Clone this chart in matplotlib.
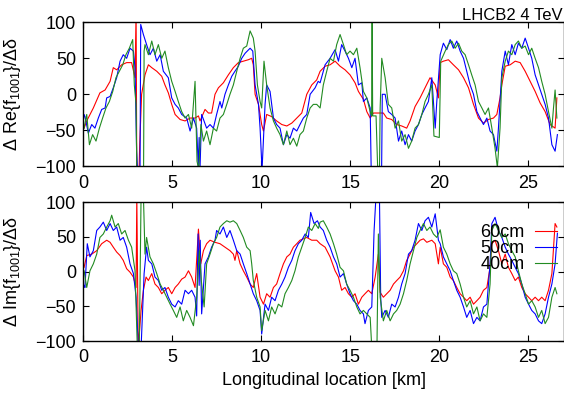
import matplotlib
matplotlib.use("Agg")
import matplotlib.pyplot as plt

plt.rcParams['font.family'] = ['Liberation Sans', 'DejaVu Sans']
plt.rcParams['mathtext.fontset'] = 'custom'
plt.rcParams['mathtext.rm'] = 'Liberation Sans'
plt.rcParams['mathtext.it'] = 'Liberation Sans:italic'
plt.rcParams['mathtext.default'] = 'regular'

## Re{f1001}, 60cm / 50cm / 40cm
re_x_60 = [0.06, 0.21, 0.58, 0.95, 1.24, 1.52, 1.70, 1.89, 2.17, 2.45, 2.73, 2.92, 2.98, 3.02, 3.14, 3.18,
           3.29, 3.48, 3.67, 3.86, 4.14, 4.42, 4.60, 4.79, 4.98, 5.17, 5.45, 5.73, 6.01, 6.29, 6.48,
           6.57, 6.85, 7.04, 7.22, 7.41, 7.60, 7.88, 8.16, 8.44, 8.72, 9.00, 9.28, 9.47, 9.56, 9.66,
           9.85, 10.03, 10.13, 10.31, 10.59, 10.87, 11.16, 11.44, 11.72, 12.00, 12.28, 12.56, 12.84, 13.12,
           13.31, 13.59, 13.87, 14.15, 14.43, 14.71, 14.99, 15.27, 15.46, 15.74, 15.93, 16.12, 16.30, 16.58,
           16.86, 17.05, 17.33, 17.61, 17.89, 18.17, 18.36, 18.64, 18.92, 19.20, 19.48, 19.77, 19.95,
           20.05, 20.23, 20.51, 20.79, 21.08, 21.36, 21.64, 21.92, 22.20, 22.48, 22.76, 23.04, 23.23,
           23.41, 23.51, 23.70, 23.98, 24.26, 24.54, 24.82, 25.10, 25.38, 25.66, 25.94, 26.22, 26.50, 26.60]
re_y_60 = [-47, -37, -19, 2, 6, 18, 37, 34, 41, 44, 44, 23, 115, -115, -115, -72,
           0, 27, 41, 37, 32, 25, 13, 2, -14, -28, -35, -37, -33, -33, -30,
           -37, -21, -26, -26, 0, 9, 16, 27, 37, 44, 46, 48, 50, 41, 0,
           -14, -42, -51, -28, -31, -37, -42, -44, -40, -33, -26, 0, 13, 20,
           32, 39, 41, 46, 39, 34, 27, 16, 4, -7, -24, -33, -26, -26,
           -26, -33, -35, -42, -44, -47, -37, -17, -5, 9, 23, 13, -5,
           44, 46, 48, 41, 34, 23, 9, -14, -33, -40, -35, -33, -28,
           -5, 13, 39, 41, 46, 44, 32, 18, 4, -12, -24, -42, -47, -5]

re_x_50 = [0.00, 0.06, 0.11, 0.30, 0.49, 0.67, 0.86, 1.05, 1.24, 1.33, 1.52, 1.70, 1.89, 2.08, 2.26, 2.45,
           2.64, 2.83, 2.92, 3.01, 3.08, 3.20, 3.24, 3.39, 3.57, 3.76, 3.95, 4.14, 4.33, 4.51, 4.79,
           4.98, 5.17, 5.35, 5.54, 5.82, 6.01, 6.20, 6.38, 6.47, 6.52, 6.57, 6.66, 6.94, 7.13, 7.32,
           7.50, 7.69, 7.79, 7.97, 8.16, 8.35, 8.53, 8.72, 8.91, 9.10, 9.38, 9.53, 9.66, 9.85, 9.94,
           10.05, 10.22, 10.31, 10.50, 10.69, 10.87, 11.06, 11.25, 11.44, 11.62, 11.81, 12.00, 12.18, 12.37,
           12.56, 12.75, 13.03, 13.20, 13.31, 13.59, 13.87, 14.15, 14.34, 14.52, 14.71, 14.90, 15.09, 15.27,
           15.46, 15.65, 15.74, 15.93, 16.12, 16.20, 16.75, 16.80, 16.96, 17.14, 17.33, 17.52, 17.71, 17.89,
           18.08, 18.27, 18.45, 18.64, 18.83, 19.02, 19.20, 19.39, 19.58, 19.77, 19.86,
           20.05, 20.23, 20.42, 20.61, 20.79, 20.98, 21.17, 21.36, 21.54, 21.73, 21.92, 22.11, 22.29, 22.48,
           22.67, 22.85, 23.04, 23.23, 23.32, 23.51, 23.70, 23.88, 24.07, 24.26, 24.44, 24.63, 24.82, 25.01,
           25.19, 25.38, 25.57, 25.75, 25.94, 26.13, 26.32, 26.50, 26.63]
re_y_50 = [-40, -28, -31, -54, -42, -47, -33, -21, -19, -5, -3, 9, 23, 46, 55, 50,
           64, 60, 37, -79, -115, -115, 97, 83, 69, 55, 64, 46, 55, 32, 23,
           -5, -14, -19, -28, -33, -51, -33, -47, -100, -60, -102, -28, -47, -42, -47,
           -28, -10, -19, 0, 13, 25, 32, 39, 50, 57, 64, 60, 13, -14, -47,
           -105, -14, 13, 4, -33, -42, -47, -70, -56, -61, -47, -51, -42, -33,
           -28, 0, 9, 18, 16, 41, 50, 62, 46, 69, 60, 50, 37, 50,
           13, 16, -10, -5, -19, -140, -140, 0, 0, -24, -28, -33, -65, -51,
           -70, -56, -65, -51, -42, -28, -19, -10, 23, -47, -10,
           55, 71, 62, 76, 64, 74, 60, 50, 32, 13, 0, -24, -33, -42,
           -33, -51, -56, -79, -47, 32, 60, 41, 69, 55, 71, 64, 78, 64,
           50, 27, 13, 0, -14, -33, -70, -79, -56]

re_x_40 = [0.06, 0.21, 0.36, 0.54, 0.73, 0.92, 1.10, 1.29, 1.48, 1.67, 1.85, 2.04, 2.23, 2.41, 2.60, 2.79,
           2.88, 2.98, 3.02, 3.40, 3.43, 3.48, 3.67, 3.86, 4.04, 4.23, 4.42, 4.60, 4.79, 4.98, 5.17,
           5.35, 5.54, 5.73, 5.92, 6.10, 6.29, 6.40, 6.50, 6.62, 6.76, 6.94, 7.13, 7.32, 7.50, 7.69,
           7.88, 8.07, 8.25, 8.44, 8.63, 8.82, 9.00, 9.19, 9.38, 9.56, 9.66, 9.79, 9.94, 10.03, 10.16,
           10.31, 10.50, 10.69, 10.87, 11.06, 11.25, 11.44, 11.62, 11.81, 12.00, 12.18, 12.37, 12.56, 12.75,
           12.93, 13.12, 13.31, 13.49, 13.68, 13.87, 14.06, 14.24, 14.43, 14.62, 14.80, 14.99, 15.18, 15.37,
           15.55, 15.74, 15.93, 16.12, 16.20, 16.23, 16.26, 16.45, 16.55, 16.64, 16.68, 16.77, 16.96, 17.14,
           17.33, 17.52, 17.71, 17.89, 18.08, 18.27, 18.45, 18.64, 18.83, 19.02, 19.20, 19.39, 19.58, 19.70,
           20.00, 20.08, 20.33, 20.51, 20.70, 20.89, 21.08, 21.26, 21.45, 21.64, 21.82, 22.01, 22.20, 22.39,
           22.57, 22.76, 22.95, 23.13, 23.26, 23.41, 23.51, 23.70, 23.88, 24.07, 24.26, 24.44, 24.63, 24.82,
           25.01, 25.19, 25.38, 25.57, 25.75, 25.94, 26.13, 26.32, 26.41, 26.50, 26.60]
re_y_40 = [-47, -28, -70, -56, -65, -47, -33, -19, -10, 4, 23, 32, 41, 55, 64, 76,
           13, -14, -110, -110, 60, 69, 55, 74, 55, 69, 50, 60, 37, 18, 4,
           -10, -24, -33, -28, -47, 18, -93, -105, -42, -65, -51, -70, -47, -51, -33,
           -28, -14, 0, 13, 32, 50, 64, 67, 88, 78, 60, 13, -10, -19, 46,
           13, -19, -37, -47, -56, -70, -51, -70, -61, -72, -56, -51, -33, -19,
           -14, -14, -19, 13, 32, 50, 46, 69, 83, 69, 55, 60, 55, 64,
           37, 4, -5, -24, -30, 105, -30, -30, -110, -110, -19, 50, 23, -14,
           -19, -47, -37, -65, -56, -75, -65, -47, -42, -28, -10, 0, 13, -58,
           -60, 46, 60, 69, 74, 64, 71, 60, 55, 41, 27, 13, -10, -19,
           -28, -19, -47, -75, -102, -47, 23, 46, 60, 55, 69, 74, 64, 67,
           55, 64, 50, 37, 18, 0, -24, -47, -19, 6, -33]

## Im{f1001}, 60cm / 50cm / 40cm
im_x_60 = [0.06, 0.21, 0.49, 0.77, 1.05, 1.33, 1.52, 1.70, 1.89, 2.08, 2.26, 2.45, 2.64, 2.83, 2.98, 3.02,
           3.10, 3.26, 3.39, 3.54, 3.67, 3.86, 4.04, 4.23, 4.42, 4.60, 4.79, 4.98, 5.17, 5.35, 5.54,
           5.73, 5.92, 6.10, 6.29, 6.48, 6.61, 6.76, 6.94, 7.13, 7.41, 7.69, 7.97, 8.25, 8.44, 8.53,
           8.63, 8.82, 9.00, 9.19, 9.38, 9.56, 9.75, 9.94, 10.13, 10.31, 10.50, 10.69, 10.87, 11.06,
           11.25, 11.44, 11.62, 11.81, 12.00, 12.18, 12.37, 12.56, 12.84, 13.12, 13.31, 13.59, 13.87, 14.15,
           14.34, 14.52, 14.71, 14.90, 15.09, 15.27, 15.46, 15.65, 15.83, 16.02, 16.21, 16.40, 16.58, 16.68,
           16.86, 17.05, 17.24, 17.43, 17.61, 17.80, 17.99, 18.17, 18.36, 18.55, 18.74, 18.92, 19.11, 19.30,
           19.58, 19.77, 19.95, 20.05, 20.23, 20.42, 20.61, 20.79, 20.98, 21.17, 21.36, 21.54, 21.73, 21.92,
           22.11, 22.29, 22.48, 22.67, 22.85, 22.95, 23.13, 23.32, 23.51, 23.70, 23.88, 24.07, 24.26, 24.44,
           24.63, 24.82, 25.01, 25.19, 25.38, 25.57, 25.75, 25.94, 26.13, 26.32, 26.50, 26.60]
im_y_60 = [6, 23, 25, 30, 40, 45, 42, 35, 28, 23, 16, 4, -1, -8, -23, 110,
           -110, -56, -27, -8, -13, -3, -18, -23, -32, -27, -23, -32, -23, -18, -11,
           -8, 1, -8, -23, 61, 11, 30, 40, 45, 42, 40, 35, 30, 25, 16,
           30, 11, 1, -8, -18, -23, -3, -37, -47, -32, -37, -23, -18, -3,
           11, 21, 25, 35, 40, 45, 47, 49, 45, 45, 40, 35, 21, 1,
           -8, -27, -23, -32, -37, -32, -47, -37, -32, -27, -32, -8, 25, -30,
           -37, -32, -27, -18, -13, -8, 1, 16, 25, 35, 40, 45, 47, 42,
           45, 40, 11, 35, 11, 6, -8, -13, -23, -32, -37, -42, -37, -47,
           -42, -37, -27, -23, 6, 40, 45, 30, 11, 25, 6, -3, -13, -8,
           -23, -32, -37, -42, -37, -42, -37, -42, -27, -3, 69, 64]

im_x_50 = [0.06, 0.11, 0.24, 0.39, 0.58, 0.77, 0.95, 1.14, 1.33, 1.52, 1.70, 1.89, 2.08, 2.26, 2.45, 2.64,
           2.83, 2.98, 3.11, 3.26, 3.43, 3.57, 3.67, 3.86, 4.04, 4.23, 4.42, 4.60, 4.79, 4.98, 5.17,
           5.35, 5.54, 5.73, 5.92, 6.10, 6.29, 6.38, 6.46, 6.52, 6.58, 6.66, 6.85, 7.04, 7.22, 7.41,
           7.50, 7.69, 7.88, 8.07, 8.25, 8.44, 8.63, 8.82, 9.00, 9.19, 9.38, 9.56, 9.75, 9.94, 10.03,
           10.22, 10.41, 10.59, 10.78, 10.97, 11.16, 11.34, 11.53, 11.72, 11.90, 12.09, 12.28, 12.47, 12.65,
           12.78, 12.97, 13.16, 13.31, 13.49, 13.68, 13.87, 14.06, 14.24, 14.43, 14.62, 14.80, 14.99, 15.18,
           15.37, 15.55, 15.74, 15.83, 16.02, 16.21, 16.34, 16.45, 16.64, 16.71, 16.77, 16.96, 17.14, 17.33,
           17.52, 17.71, 17.89, 18.08, 18.27, 18.45, 18.64, 18.83, 19.02, 19.20, 19.39, 19.58, 19.77, 19.95,
           20.05, 20.23, 20.42, 20.61, 20.79, 20.98, 21.17, 21.36, 21.54, 21.73, 21.92, 22.11, 22.29, 22.48,
           22.67, 22.85, 22.95, 23.13, 23.32, 23.51, 23.70, 23.88, 24.07, 24.26, 24.44, 24.63, 24.82, 25.01,
           25.19, 25.38, 25.57, 25.75, 25.94, 26.13, 26.32, 26.50, 26.63]
im_y_50 = [-20, -23, 40, 21, 30, 59, 64, 71, 59, 69, 59, 64, 45, 49, 35, 11,
           -3, -37, -110, -110, -3, 35, 16, 11, -8, -13, -27, -23, -37, -47, -51,
           -42, -47, -27, -32, -27, -37, -64, 54, -20, 45, -61, 11, 21, 35, 45,
           59, 54, 64, 49, 59, 45, 30, 25, 11, -3, -18, -32, -42, -56, -90,
           -47, -56, -37, -42, -27, -18, -8, 6, 16, 30, 40, 45, 54, 49,
           85, 69, 73, 64, 59, 45, 35, 21, 11, -8, -3, -18, -32, -42,
           -47, -56, -61, -75, -56, -51, 59, 110, 110, -37, -66, -56, -66, -47,
           -51, -37, -18, -3, 25, 30, 45, 69, 59, 73, 78, 64, 83, 45,
           40, 21, 11, 1, -13, -27, -37, -51, -66, -56, -75, -66, -71, -51,
           -47, 11, 69, 78, 59, 49, 35, 25, 16, 6, -3, -18, -37, -47,
           -56, -61, -71, -75, -61, -37, -18, 11, 55]

im_x_40 = [0.06, 0.21, 0.39, 0.58, 0.77, 0.95, 1.14, 1.33, 1.52, 1.61, 1.80, 1.98, 2.17, 2.36, 2.55, 2.73,
           2.92, 3.05, 3.16, 3.26, 3.39, 3.48, 3.57, 3.76, 3.95, 4.14, 4.33, 4.51, 4.70, 4.89, 5.07,
           5.26, 5.45, 5.63, 5.82, 6.01, 6.20, 6.38, 6.53, 6.64, 6.80, 6.94, 7.13, 7.32, 7.50, 7.69,
           7.88, 8.07, 8.25, 8.44, 8.63, 8.82, 9.00, 9.19, 9.38, 9.47, 9.56, 9.75, 9.94, 10.03, 10.22,
           10.41, 10.59, 10.78, 10.97, 11.16, 11.34, 11.53, 11.72, 11.90, 12.09, 12.28, 12.47, 12.65, 12.84,
           13.03, 13.21, 13.31, 13.49, 13.68, 13.87, 14.06, 14.24, 14.43, 14.62, 14.80, 14.99, 15.18, 15.37,
           15.55, 15.74, 15.93, 16.12, 16.21, 16.50, 16.58, 16.68, 16.86, 17.05, 17.24, 17.43, 17.61, 17.80,
           17.99, 18.17, 18.36, 18.55, 18.74, 18.92, 19.11, 19.30, 19.48, 19.67, 19.86,
           20.05, 20.23, 20.42, 20.61, 20.79, 20.98, 21.17, 21.36, 21.54, 21.73, 21.92, 22.11, 22.29, 22.48,
           22.67, 22.85, 22.95, 23.13, 23.32, 23.51, 23.70, 23.88, 24.07, 24.26, 24.44, 24.63, 24.82, 25.01,
           25.19, 25.38, 25.57, 25.75, 25.94, 26.13, 26.32, 26.50, 26.60]
im_y_40 = [1, -23, 1, 11, 25, 49, 54, 64, 73, 81, 64, 69, 54, 59, 45, 35,
           1, -110, -110, 110, 110, 25, 49, 21, 11, -3, -18, -27, -37, -47, -56,
           -66, -51, -71, -56, -66, -78, -37, 30, -13, -51, 11, 25, 40, 49, 64,
           69, 73, 71, 73, 69, 59, 49, 35, 30, 11, -13, -37, -51, -85, -56,
           -71, -51, -61, -47, -51, -32, -23, -13, 1, 21, 35, 49, 64, 59,
           69, 62, 71, 73, 64, 54, 40, 25, 6, 1, -18, -27, -37, -51,
           -61, -56, -61, -66, -110, -110, 54, -37, -71, -56, -71, -61, -56, -47,
           -32, -13, 11, 30, 49, 59, 69, 59, 64, 54, 49,
           60, 35, 25, 11, 1, -3, -18, -37, -51, -42, -61, -51, -71, -61,
           -66, -18, 59, 69, 59, 49, 54, 40, 30, 21, 1, -18, -32, -47,
           -42, -51, -66, -56, -75, -66, -37, -23, -32]

labels = ['60cm', '50cm', '40cm']
colors = ['#ff0000', '#0000ff', '#228b22']
xticks = [0, 5, 10, 15, 20, 25]
yticks = [-100, -50, 0, 50, 100]

fig = plt.figure(figsize=(5.64, 3.95), dpi=100)
ax1 = fig.add_axes([83/564, 1 - 166.3/395, 481/564, 144/395])
ax2 = fig.add_axes([83/564, 1 - 341/395, 481/564, 139/395])

ax1.plot(re_x_60, re_y_60, color=colors[0], lw=0.8)
ax1.plot(re_x_50, re_y_50, color=colors[1], lw=0.8)
ax1.plot(re_x_40, re_y_40, color=colors[2], lw=0.8)

ax2.plot(im_x_60, im_y_60, color=colors[0], lw=0.8, label=labels[0])
ax2.plot(im_x_50, im_y_50, color=colors[1], lw=0.8, label=labels[1])
ax2.plot(im_x_40, im_y_40, color=colors[2], lw=0.8, label=labels[2])

for ax in (ax1, ax2):
    ax.set_xlim(0, 27)
    ax.set_ylim(-100, 100)
    ax.set_xticks(xticks)
    ax.set_yticks(yticks)
    ax.tick_params(direction='in', top=True, right=True, length=4, width=0.8, labelsize=13)
    ax.tick_params(axis='x', pad=6)
    ax.tick_params(axis='y', pad=5)
    for s in ax.spines.values():
        s.set_linewidth(1.0)

ax1.set_ylabel('Δ Re{f$_{1001}$}/Δδ', fontsize=13)
ax2.set_ylabel('Δ Im{f$_{1001}$}/Δδ', fontsize=13)
ax1.yaxis.set_label_coords(-0.125, 0.5)
ax2.yaxis.set_label_coords(-0.125, 0.5)
ax2.set_xlabel('Longitudinal location [km]', fontsize=13, labelpad=4)

fig.text(563/564, 1 - 20/395, 'LHCB2 4 TeV', ha='right', va='baseline', fontsize=12)

ax2.legend(loc='upper right', bbox_to_anchor=(0.985, 0.84), frameon=False, markerfirst=False,
           fontsize=13, handlelength=1.2, handletextpad=0.6, labelspacing=-0.05,
           borderaxespad=0, borderpad=0)

fig.savefig('out.png', dpi=100)
